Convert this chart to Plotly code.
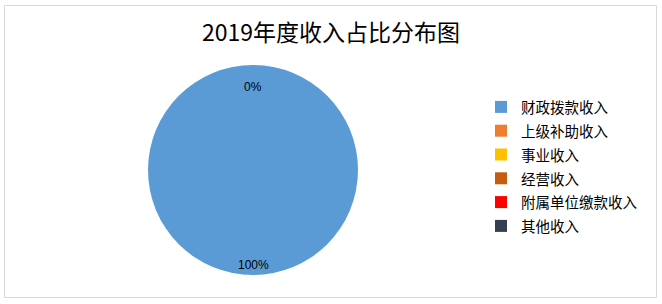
import math
import plotly.graph_objects as go

categories = ["财政拨款收入", "上级补助收入", "事业收入", "经营收入", "附属单位缴款收入", "其他收入"]
values = [100, 0, 0, 0, 0, 0]
colors = ["#5B9BD5", "#ED7D31", "#FFC000", "#C55A11", "#FF0000", "#333F50"]
title_text = "2019年度收入占比分布图"

W, H = 662, 304
dom_x = [148 / W, 358 / W]
dom_y = [(H - 275) / H, (H - 65) / H]

legend_labels = [f"<span style='font-size:14.5px'>{c}</span>" for c in categories]

fig = go.Figure(go.Pie(
    labels=legend_labels,
    values=values,
    marker=dict(colors=colors, line=dict(width=0)),
    sort=False,
    direction="clockwise",
    rotation=0,
    textinfo="none",
    hovertext=categories,
    hoverinfo="text+percent",
    domain=dict(x=dom_x, y=dom_y),
))

# data labels placed like Excel's best-fit inside labels
total = sum(values)
cx = (dom_x[0] + dom_x[1]) / 2 * W
cy = (1 - (dom_y[0] + dom_y[1]) / 2) * H
r = (dom_x[1] - dom_x[0]) * W / 2
cum = 0
shown = set()
for v in values:
    mid = (cum + v / 2) / total * 2 * math.pi
    cum += v
    pct = f"{round(v / total * 100)}%"
    dist = 0.9 if v > 0 else 0.79
    px = cx + dist * r * math.sin(mid)
    py = cy - dist * r * math.cos(mid)
    key = (round(px), round(py))
    if key in shown:
        continue
    shown.add(key)
    fig.add_annotation(x=px / W, y=1 - py / H, xref="paper", yref="paper",
                       xanchor="center", yanchor="middle",
                       text=pct, showarrow=False,
                       font=dict(size=12, color="#000000", family="Liberation Sans, Arial"))

fig.add_shape(type="rect", xref="paper", yref="paper",
              x0=4.5 / W, x1=656.5 / W, y0=1 - 297.5 / H, y1=1 - 5.5 / H,
              line=dict(color="#D9D9D9", width=1), fillcolor="rgba(0,0,0,0)")

fig.update_layout(
    width=W, height=H,
    margin=dict(l=0, r=0, t=0, b=0),
    paper_bgcolor="white",
    plot_bgcolor="white",
    title=dict(text=title_text, x=0.5, xanchor="center", y=1 - 33 / H, yanchor="middle",
               font=dict(size=23, color="#000000", family="Noto Sans CJK SC, sans-serif")),
    legend=dict(x=481 / W, y=1 - 90 / H, xanchor="left", yanchor="top",
                font=dict(size=16, color="#000000", family="Noto Sans CJK SC, sans-serif"),
                itemclick=False, bgcolor="rgba(0,0,0,0)"),
    showlegend=True,
)

fig.write_html("out.html")
